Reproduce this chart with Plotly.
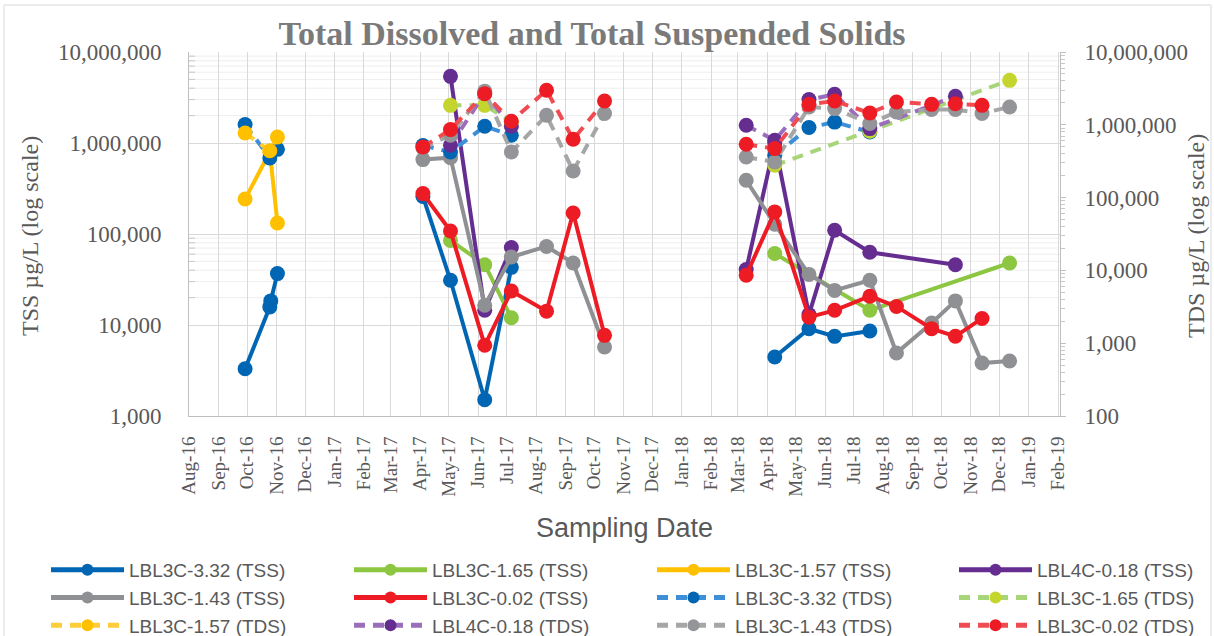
import pandas as pd
import plotly.graph_objects as go

# ---------------------------------------------------------------------------
# Sampling dates (shared by all stations) and measured concentrations (µg/L)
# ---------------------------------------------------------------------------
sample_dates = [
    "2016-09-29", "2016-10-25", "2016-10-26", "2016-11-02",
    "2017-04-04", "2017-05-03", "2017-06-08", "2017-07-06", "2017-08-12",
    "2017-09-09", "2017-10-12",
    "2018-03-10", "2018-04-09", "2018-05-15", "2018-06-11", "2018-07-18",
    "2018-08-15", "2018-09-21", "2018-10-16", "2018-11-13", "2018-12-12",
]
N = None

# Total suspended solids (left axis)
tss_lbl3c_332 = [3300, 15800, 18400, 36700, 259000, 31000, 1510, 43000, N, N, N,
                 N, 4450, 9100, 7500, 8600, N, N, N, N, N]
tss_lbl3c_165 = [N, N, N, N, N, 85000, 46000, 12000, N, N, N,
                 N, 61000, N, N, 14500, N, N, N, N, 48000]
tss_lbl3c_157 = [242000, 796000, N, 132000, N, N, N, N, N, N, N,
                 N, N, N, N, N, N, N, N, N, N]
tss_lbl4c_018 = [N, N, N, N, N, 5400000, 14500, 71000, N, N, N,
                 40600, 1000000, 13000, 110000, 63000, N, N, 46000, N, N]
tss_lbl3c_143 = [N, N, N, N, 657000, 690000, 16500, 55900, 73000, 48000, 5730,
                 389000, 128000, 36000, 24000, 31000, 4920, 10500, 18400, 3820, 4020]
tss_lbl3c_002 = [N, N, N, N, 278000, 108000, 5980, 23600, 14200, 170000, 7700,
                 35200, 175000, 12200, 14500, 20700, 16000, 9120, 7510, 11800, N]

# Total dissolved solids (right axis)
tds_lbl3c_332 = [1010000, 350000, N, 460000, 520000, 423000, 953000, 718000, N, N, N,
                 N, 381000, 916000, 1090000, 796000, N, N, N, N, N]
tds_lbl3c_165 = [N, N, N, N, N, 1850000, 1850000, 1100000, N, N, N,
                 N, 278000, N, N, 815000, N, N, N, N, 4080000]
tds_lbl3c_157 = [771000, 440000, N, 680000, N, N, N, N, N, N, N,
                 N, N, N, N, N, N, N, N, N, N]
tds_lbl4c_018 = [N, N, N, N, N, 523000, 2700000, 953000, N, N, N,
                 985000, 612000, 2220000, 2620000, 887000, N, N, 2460000, N, N]
tds_lbl3c_143 = [N, N, N, N, 480000, 718000, 2900000, 423000, 1350000, 232000, 1430000,
                 361000, 308000, 1760000, 1670000, 1040000, 1500000, 1620000, 1620000,
                 1430000, 1760000]
tds_lbl3c_002 = [N, N, N, N, 495000, 859000, 2680000, 1120000, 2980000, 632000, 2120000,
                 540000, 471000, 1910000, 2120000, 1450000, 2060000, 1910000, 1950000,
                 1850000, N]

month_ticks = pd.date_range("2016-08-01", "2019-02-01", freq="MS")
month_labels = [d.strftime("%b-%y") for d in month_ticks]

y_left_ticks = [1e3, 1e4, 1e5, 1e6, 1e7]
y_left_labels = ["1,000", "10,000", "100,000", "1,000,000", "10,000,000"]
y_right_ticks = [1e2, 1e3, 1e4, 1e5, 1e6, 1e7]
y_right_labels = ["100", "1,000", "10,000", "100,000", "1,000,000", "10,000,000"]

# ---------------------------------------------------------------------------
# Styling
# ---------------------------------------------------------------------------
SERIF = "Liberation Serif, Times New Roman, serif"
SANS = "Liberation Sans, Arial, sans-serif"
TEXT = "#595959"
GRID = "#d9d9d9"
MINOR_GRID = "#eeeeee"

# (name, values, axis, line colour, marker colour, dashed)
series = [
    ("LBL3C-3.32 (TSS)", tss_lbl3c_332, "y", "#0066b3", "#0066b3", False),
    ("LBL3C-1.65 (TSS)", tss_lbl3c_165, "y", "#8dc641", "#8dc641", False),
    ("LBL3C-1.57 (TSS)", tss_lbl3c_157, "y", "#ffc000", "#ffc000", False),
    ("LBL4C-0.18 (TSS)", tss_lbl4c_018, "y", "#662d91", "#662d91", False),
    ("LBL3C-1.43 (TSS)", tss_lbl3c_143, "y", "#8f9093", "#8f9093", False),
    ("LBL3C-0.02 (TSS)", tss_lbl3c_002, "y", "#ed1c24", "#ed1c24", False),
    ("LBL3C-3.32 (TDS)", tds_lbl3c_332, "y2", "#3d8fd8", "#0066b3", True),
    ("LBL3C-1.65 (TDS)", tds_lbl3c_165, "y2", "#a8d57a", "#c4d52e", True),
    ("LBL3C-1.57 (TDS)", tds_lbl3c_157, "y2", "#ffcd3a", "#ffc000", True),
    ("LBL4C-0.18 (TDS)", tds_lbl4c_018, "y2", "#9b6ebb", "#662d91", True),
    ("LBL3C-1.43 (TDS)", tds_lbl3c_143, "y2", "#a6a6a6", "#939598", True),
    ("LBL3C-0.02 (TDS)", tds_lbl3c_002, "y2", "#f04b51", "#ed1c24", True),
]


def with_season_breaks(dates, values):
    """Drop unsampled dates and break the line between yearly field seasons."""
    xs, ys, prev_year = [], [], None
    for d, v in zip(dates, values):
        if v is None:
            continue
        year = pd.Timestamp(d).year
        if prev_year is not None and year != prev_year:
            xs.append(None)
            ys.append(None)
        xs.append(d)
        ys.append(v)
        prev_year = year
    return xs, ys


fig = go.Figure()
legend_ids = ["legend", "legend2", "legend3", "legend4"]
for i, (name, vals, axis, lcol, mcol, dashed) in enumerate(series):
    xs, ys = with_season_breaks(sample_dates, vals)
    fig.add_trace(go.Scatter(
        x=xs, y=ys, name=name, yaxis=axis, mode="lines+markers",
        connectgaps=False,
        line=dict(color=lcol, width=4, dash="11px,8px" if dashed else "solid"),
        marker=dict(color=mcol, size=15, line=dict(width=0)),
        legend=legend_ids[i % 4],
        hovertemplate="%{x|%d %b %Y}<br>%{y:,.0f} µg/L<extra>" + name + "</extra>",
    ))

# Plot-area geometry in pixels (used to place text and frame)
W, H = 1214, 636
L, R, T, B = 189, 154, 52, 220
pw, ph = W - L - R, H - T - B


def px_x(px):
    return (px - L) / pw


def px_y(py):
    return (H - B - py) / ph


# Light minor gridlines on the upper decades of the TSS axis
shapes = []
for base in (1e4, 1e6):
    for k in range(2, 10):
        shapes.append(dict(type="line", xref="paper", yref="y", x0=0, x1=1,
                           y0=k * base, y1=k * base,
                           line=dict(color=MINOR_GRID, width=1), layer="below"))
        shapes.append(dict(type="line", xref="paper", yref="y", x0=0, x1=6 / pw,
                           y0=k * base, y1=k * base,
                           line=dict(color="#c8c8c8", width=1), layer="below"))

# Chart-area frame
shapes.append(dict(type="rect", xref="paper", yref="paper",
                   x0=px_x(4), x1=px_x(1211), y0=px_y(645), y1=px_y(5),
                   line=dict(color=GRID, width=1), fillcolor="rgba(0,0,0,0)", layer="below"))

# Vertical axis titles
annotations = [
    dict(text="TSS µg/L (log scale)", xref="paper", yref="paper",
         x=px_x(30), y=px_y(236), xanchor="center", yanchor="middle",
         textangle=-90, showarrow=False,
         font=dict(family=SERIF, size=24, color=TEXT)),
    dict(text="TDS µg/L (log scale)", xref="paper", yref="paper",
         x=px_x(1196), y=px_y(236), xanchor="center", yanchor="middle",
         textangle=-90, showarrow=False,
         font=dict(family=SERIF, size=24, color=TEXT)),
]

# Legend laid out as four columns of three entries
legend_common = dict(
    orientation="v", xref="container", yref="container", xanchor="left", yanchor="top",
    font=dict(family=SANS, size=19, color=TEXT), bgcolor="rgba(0,0,0,0)",
    itemwidth=73, itemsizing="constant",
)
legend_left = [46, 349, 652, 954]
layout_legends = {}
for lid, lx in zip(legend_ids, legend_left):
    layout_legends[lid] = dict(legend_common, x=lx / W, y=1 - 551 / H)

fig.update_layout(
    width=W, height=H,
    margin=dict(l=L, r=R, t=T, b=B, autoexpand=False),
    paper_bgcolor="white", plot_bgcolor="white",
    title=dict(text="Total Dissolved and Total Suspended Solids",
               font=dict(family=SERIF, size=34, color="#7a7a7a", weight="bold"),
               xref="container", yref="container", x=592 / W, y=1 - 33 / H,
               xanchor="center", yanchor="middle"),
    xaxis=dict(
        type="date", range=["2016-08-01", "2019-02-03"],
        tickmode="array", tickvals=month_ticks, ticktext=month_labels,
        tickangle=-90, tickfont=dict(family=SERIF, size=19, color=TEXT),
        showgrid=True, gridcolor=GRID, gridwidth=1,
        showline=True, linecolor="#bfbfbf", linewidth=1, ticks="",
        ticklabelstandoff=12, zeroline=False,
        title=dict(text="Sampling Date", font=dict(family=SANS, size=27, color=TEXT),
                   standoff=22),
    ),
    yaxis=dict(
        type="log", range=[3, 7], tickmode="array",
        tickvals=y_left_ticks, ticktext=y_left_labels,
        tickfont=dict(family=SERIF, size=23, color=TEXT),
        showgrid=True, gridcolor=GRID, gridwidth=1,
        showline=True, linecolor="#bfbfbf", linewidth=1, ticks="",
        ticklabelstandoff=22, zeroline=False,
    ),
    yaxis2=dict(
        type="log", range=[2, 7], overlaying="y", side="right", anchor="x",
        tickmode="array", tickvals=y_right_ticks, ticktext=y_right_labels,
        tickfont=dict(family=SERIF, size=23, color=TEXT),
        showgrid=False, showline=True, linecolor="#bfbfbf", linewidth=1,
        ticks="outside", ticklen=5, tickcolor="#bfbfbf", ticklabelstandoff=14,
        minor=dict(ticks="outside", ticklen=4, tickcolor="#c8c8c8", dtick="D1"),
        zeroline=False,
    ),
    shapes=shapes,
    annotations=annotations,
    **layout_legends,
)

fig.write_html("out.html")
